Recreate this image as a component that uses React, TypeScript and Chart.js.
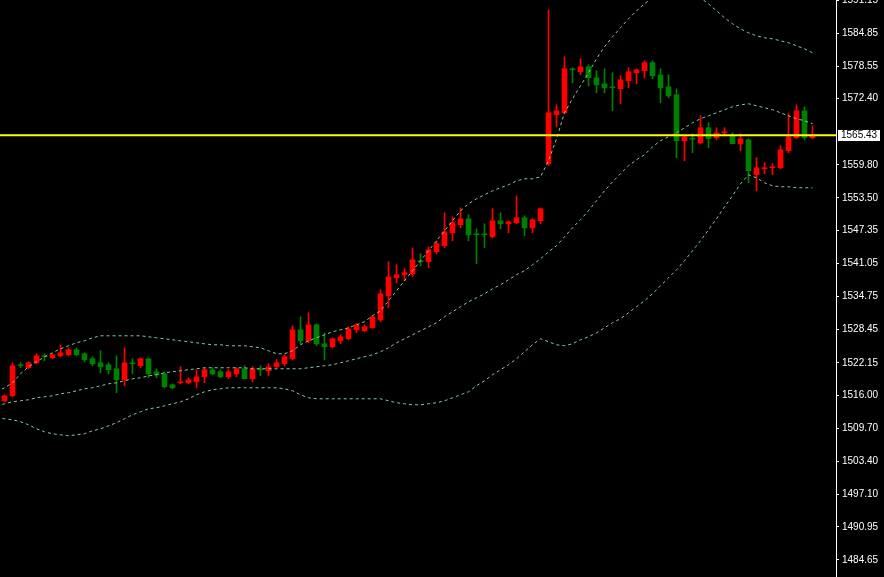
import React, { useEffect, useRef } from "react";
import { Chart, registerables } from "chart.js";

Chart.register(...registerables);

// Candles (index 0..101)
const opens = [
  1514.92, 1515.87, 1521.77, 1521.20, 1522.15, 1523.48, 1523.10, 1523.48, 1523.67, 1524.62,
  1523.86, 1522.91, 1522.15, 1521.77, 1521.01, 1518.91, 1522.15, 1521.58, 1522.91, 1520.44,
  1520.05, 1517.96, 1518.34, 1518.34, 1518.53, 1519.48, 1520.82, 1520.44, 1519.48, 1520.05,
  1521.01, 1519.10, 1521.01, 1520.63, 1521.39, 1521.96, 1522.91, 1528.42, 1526.33, 1529.37,
  1525.76, 1525.19, 1526.33, 1526.71, 1528.42, 1528.23, 1528.80, 1530.32, 1534.89, 1538.31,
  1538.88, 1539.08, 1541.55, 1541.36, 1543.26, 1544.40, 1546.87, 1548.40, 1549.54, 1546.68,
  1546.68, 1546.11, 1549.16, 1548.59, 1548.78, 1549.73, 1547.82, 1549.16, 1560.00, 1569.32,
  1569.70, 1578.07, 1577.50, 1578.45, 1576.35, 1575.21, 1574.64, 1574.26, 1575.78, 1577.31,
  1577.69, 1579.21, 1576.92, 1574.64, 1573.12, 1564.37, 1564.85, 1563.99, 1566.85, 1564.94,
  1565.89, 1565.32, 1563.80, 1564.56, 1557.91, 1559.05, 1559.24, 1559.24, 1562.47, 1564.94,
  1570.08, 1564.94,
];
const highs = [
  1516.06, 1522.15, 1522.15, 1522.34, 1523.86, 1523.86, 1523.86, 1525.57, 1525.00, 1525.00,
  1524.05, 1523.29, 1524.43, 1522.15, 1523.48, 1525.00, 1522.91, 1523.10, 1523.10, 1521.01,
  1520.44, 1518.15, 1521.39, 1519.29, 1520.82, 1521.20, 1521.20, 1520.82, 1520.82, 1521.20,
  1521.58, 1521.39, 1521.58, 1521.96, 1522.72, 1523.67, 1529.18, 1530.90, 1531.66, 1529.56,
  1527.85, 1526.90, 1527.47, 1528.99, 1529.56, 1529.37, 1531.09, 1536.03, 1541.36, 1540.79,
  1540.03, 1544.02, 1542.88, 1544.21, 1545.35, 1550.68, 1549.92, 1551.63, 1550.30, 1547.63,
  1548.59, 1551.44, 1550.68, 1549.16, 1553.91, 1550.11, 1549.54, 1551.63, 1589.29, 1571.22,
  1580.35, 1578.26, 1579.97, 1578.83, 1577.69, 1578.07, 1577.31, 1576.73, 1578.26, 1578.07,
  1579.59, 1579.59, 1578.07, 1576.92, 1574.26, 1565.32, 1565.70, 1569.13, 1567.80, 1566.85,
  1566.85, 1565.89, 1565.70, 1564.75, 1561.14, 1560.19, 1560.00, 1563.42, 1569.51, 1571.22,
  1570.84, 1567.22,
];
const lows = [
  1514.73, 1515.68, 1521.20, 1521.01, 1521.96, 1522.53, 1522.91, 1523.29, 1523.48, 1523.48,
  1522.34, 1521.58, 1520.24, 1520.05, 1516.44, 1517.77, 1520.05, 1521.20, 1519.29, 1519.29,
  1517.39, 1517.20, 1518.15, 1518.15, 1517.39, 1518.34, 1519.87, 1519.29, 1519.10, 1519.48,
  1519.10, 1518.53, 1519.68, 1519.68, 1521.20, 1521.58, 1522.72, 1525.76, 1525.95, 1525.38,
  1522.72, 1525.00, 1525.76, 1526.52, 1527.85, 1528.04, 1528.70, 1529.94, 1532.61, 1537.36,
  1537.74, 1538.50, 1540.60, 1540.22, 1542.88, 1544.02, 1545.35, 1547.82, 1545.35, 1540.98,
  1544.02, 1545.92, 1547.63, 1546.87, 1548.59, 1546.30, 1546.87, 1548.59, 1559.62, 1567.03,
  1569.51, 1575.40, 1576.93, 1574.83, 1573.50, 1573.50, 1570.08, 1571.41, 1574.45, 1575.21,
  1576.35, 1576.16, 1571.60, 1572.55, 1561.14, 1560.57, 1562.09, 1563.80, 1563.04, 1564.56,
  1565.32, 1563.80, 1562.47, 1556.38, 1554.86, 1558.10, 1557.91, 1559.05, 1562.09, 1564.75,
  1564.56, 1564.75,
];
const closes = [
  1515.87, 1521.58, 1521.58, 1522.15, 1523.48, 1523.29, 1523.67, 1524.05, 1524.62, 1523.67,
  1522.72, 1521.96, 1521.39, 1520.82, 1518.91, 1522.15, 1521.96, 1522.91, 1520.05, 1519.87,
  1517.58, 1517.39, 1518.53, 1518.91, 1519.48, 1520.82, 1520.05, 1519.48, 1520.44, 1521.01,
  1519.10, 1521.01, 1520.82, 1521.39, 1522.15, 1523.29, 1528.42, 1526.33, 1529.37, 1525.76,
  1525.19, 1526.71, 1527.09, 1528.61, 1529.37, 1528.99, 1530.90, 1535.27, 1538.50, 1538.88,
  1539.27, 1541.74, 1541.36, 1543.64, 1544.78, 1547.06, 1548.78, 1549.54, 1546.49, 1546.49,
  1546.49, 1549.16, 1548.59, 1548.97, 1549.73, 1547.82, 1549.35, 1551.44, 1569.70, 1570.08,
  1578.07, 1577.88, 1578.45, 1576.35, 1575.02, 1574.45, 1574.45, 1575.97, 1577.50, 1577.88,
  1579.21, 1576.73, 1574.45, 1572.93, 1564.37, 1565.13, 1564.66, 1566.85, 1564.75, 1565.89,
  1566.08, 1563.80, 1564.75, 1558.67, 1559.24, 1559.24, 1559.43, 1562.66, 1565.13, 1570.08,
  1564.94, 1565.43,
];

// Bollinger bands, index -1..101
const upperBand = [
  1516.63, 1517.39, 1518.34, 1520.06, 1521.39, 1522.34, 1523.29, 1524.05, 1524.81, 1525.38,
  1525.95, 1526.33, 1526.90, 1527.28, 1527.28, 1527.28, 1527.28, 1527.28, 1527.28, 1527.09,
  1526.90, 1526.71, 1526.52, 1526.33, 1526.14, 1525.95, 1525.76, 1525.57, 1525.57, 1525.38,
  1525.38, 1525.38, 1525.19, 1525.00, 1524.43, 1523.86, 1523.86, 1524.43, 1525.57, 1526.33,
  1526.90, 1527.47, 1528.04, 1528.42, 1528.80, 1529.38, 1529.95, 1531.09, 1532.04, 1533.94,
  1535.84, 1537.74, 1539.65, 1541.55, 1543.45, 1545.35, 1547.25, 1549.16, 1551.06, 1552.39,
  1553.34, 1554.10, 1554.86, 1555.43, 1556.00, 1556.76, 1557.14, 1557.14, 1557.52, 1560.57,
  1564.75, 1569.70, 1572.36, 1574.83, 1577.31, 1579.97, 1582.25, 1584.15, 1585.86, 1587.58,
  1589.10, 1590.43, 1591.57, 1592.52, 1593.28, 1593.66, 1593.28, 1592.52, 1591.57, 1590.43,
  1589.10, 1587.77, 1586.63, 1585.67, 1584.91, 1584.34, 1583.96, 1583.77, 1583.39, 1583.01,
  1582.44, 1581.87, 1581.11,
];
const middleBand = [
  1513.97, 1514.35, 1514.73, 1514.92, 1515.11, 1515.49, 1515.68, 1515.87, 1516.25, 1516.44,
  1516.82, 1517.20, 1517.39, 1517.77, 1518.15, 1518.34, 1518.72, 1519.10, 1519.29, 1519.67,
  1519.87, 1520.25, 1520.44, 1520.63, 1520.82, 1521.01, 1521.20, 1521.20, 1521.20, 1521.20,
  1521.20, 1521.20, 1521.01, 1521.01, 1521.01, 1521.01, 1521.01, 1521.01, 1521.01, 1521.20,
  1521.39, 1521.58, 1521.77, 1522.15, 1522.53, 1522.91, 1523.29, 1523.67, 1524.24, 1525.00,
  1525.95, 1526.71, 1527.47, 1528.23, 1528.99, 1529.76, 1530.90, 1531.85, 1532.80, 1533.75,
  1534.51, 1535.27, 1536.22, 1536.98, 1537.93, 1538.89, 1539.65, 1540.79, 1541.93, 1543.26,
  1544.40, 1546.11, 1547.82, 1549.35, 1551.06, 1552.96, 1554.86, 1556.57, 1558.10, 1559.62,
  1560.76, 1561.71, 1563.23, 1564.37, 1565.13, 1565.89, 1566.84, 1567.80, 1568.56, 1569.13,
  1569.70, 1570.27, 1570.84, 1571.22, 1571.41, 1571.03, 1570.65, 1570.27, 1569.70, 1569.13,
  1568.56, 1568.18, 1567.61,
];
const lowerBand = [
  1511.69, 1511.50, 1511.31, 1510.93, 1510.36, 1509.59, 1509.02, 1508.64, 1508.45, 1508.26,
  1508.45, 1508.64, 1509.21, 1509.59, 1510.16, 1510.74, 1511.50, 1512.26, 1512.83, 1513.40,
  1513.59, 1513.97, 1514.35, 1514.73, 1515.30, 1516.06, 1516.63, 1517.01, 1517.20, 1517.39,
  1517.39, 1517.39, 1517.39, 1517.39, 1517.39, 1517.39, 1517.20, 1516.82, 1516.06, 1515.49,
  1515.30, 1515.30, 1515.30, 1515.30, 1515.30, 1515.30, 1515.30, 1515.30, 1515.30, 1514.92,
  1514.54, 1514.35, 1514.16, 1514.16, 1514.35, 1514.54, 1514.92, 1515.49, 1516.06, 1516.63,
  1517.77, 1518.72, 1519.87, 1520.82, 1521.77, 1522.91, 1524.24, 1525.57, 1526.71, 1526.14,
  1525.57, 1525.38, 1525.76, 1526.52, 1527.09, 1527.85, 1528.80, 1529.76, 1530.52, 1531.66,
  1532.80, 1533.94, 1535.27, 1536.79, 1538.31, 1539.84, 1541.55, 1543.45, 1545.35, 1547.44,
  1549.54, 1551.82, 1553.91, 1556.19, 1557.91, 1557.33, 1556.38, 1555.81, 1555.62, 1555.62,
  1555.43, 1555.43, 1555.43,
];

const yTicks = [
  1591.15, 1584.85, 1578.55, 1572.4, 1559.8, 1553.5, 1547.35, 1541.05, 1534.75,
  1528.45, 1522.15, 1516.0, 1509.7, 1503.4, 1497.1, 1490.95, 1484.65,
];
const lastPrice = 1565.43;

export default function App() {
  const ref = useRef<HTMLCanvasElement>(null);

  useEffect(() => {
    document.body.style.margin = "0";
    document.body.style.background = "#000";
    const upColor = "#ff0000";
    const downColor = "#008000";
    const colors = closes.map((c, i) => (c > opens[i] ? upColor : downColor));
    const idx = closes.map((_, i) => i);
    const bandPts = (arr: number[]) => arr.map((v, k) => ({ x: k - 1, y: v }));
    const fontFamily = "'Liberation Sans', Arial, sans-serif";
    const fontSize = 10;
    const bandColor = "#86c9a2";

    const priceTag = {
      id: "priceTag",
      afterDraw(chart: any) {
        const ctx = chart.ctx;
        const y = Math.round(chart.scales.y.getPixelForValue(lastPrice));
        const x0 = chart.chartArea.right + 2;
        ctx.save();
        ctx.fillStyle = "#ffffff";
        ctx.fillRect(x0, y - 5, 42, 11);
        ctx.fillStyle = "#000000";
        ctx.font = `${fontSize}px ${fontFamily}`;
        ctx.textBaseline = "middle";
        ctx.textAlign = "left";
        ctx.fillText(lastPrice.toFixed(2), x0 + 3, y + 0.5);
        ctx.restore();
      },
    };

    const bandDs = (arr: number[]) => ({
      type: "line" as const,
      data: bandPts(arr),
      borderColor: bandColor,
      borderWidth: 1,
      borderDash: [3, 3],
      pointRadius: 0,
      tension: 0,
      order: 1,
    });

    const chart = new Chart(ref.current as HTMLCanvasElement, {
      type: "bar",
      data: {
        datasets: [
          {
            type: "line",
            data: [
              { x: -1, y: lastPrice },
              { x: 105, y: lastPrice },
            ],
            borderColor: "#ffff00",
            borderWidth: 2,
            pointRadius: 0,
            order: 0,
          } as any,
          bandDs(upperBand) as any,
          bandDs(middleBand) as any,
          bandDs(lowerBand) as any,
          {
            type: "bar",
            data: idx.map((i) => ({ x: i, y: [opens[i], closes[i]] })),
            backgroundColor: colors,
            borderWidth: 0,
            barThickness: 5,
            minBarLength: 1,
            grouped: false,
            order: 2,
          } as any,
          {
            type: "bar",
            data: idx.map((i) => ({ x: i, y: [lows[i], highs[i]] })),
            backgroundColor: colors,
            borderWidth: 0,
            barThickness: 1,
            grouped: false,
            order: 3,
          } as any,
        ],
      },
      options: {
        animation: false,
        responsive: false,
        devicePixelRatio: 1,
        layout: { padding: 0 },
        plugins: { legend: { display: false }, tooltip: { enabled: false } },
        scales: {
          x: {
            type: "linear",
            min: -0.5625,
            max: 103.9375,
            offset: false,
            display: false,
          },
          y: {
            position: "right",
            min: 1481.4,
            max: 1591.15,
            afterBuildTicks: (s: any) => {
              s.ticks = yTicks.map((v) => ({ value: v }));
            },
            afterFit: (s: any) => {
              s.width = 48;
              s.paddingTop = 0;
              s.paddingBottom = 0;
            },
            grid: { drawOnChartArea: false, color: "#ffffff", tickLength: 3 },
            border: { color: "#ffffff", width: 1 },
            ticks: {
              color: "#ffffff",
              font: { family: fontFamily, size: fontSize },
              padding: 3,
              autoSkip: false,
              callback: (v: any) => Number(v).toFixed(2),
            },
          },
        },
      } as any,
      plugins: [priceTag],
    });
    return () => chart.destroy();
  }, []);

  return (
    <div
      style={{
        position: "fixed",
        left: 0,
        top: 0,
        width: 884,
        height: 577,
        background: "#000",
      }}
    >
      <canvas ref={ref} width={884} height={577} style={{ display: "block" }} />
    </div>
  );
}
